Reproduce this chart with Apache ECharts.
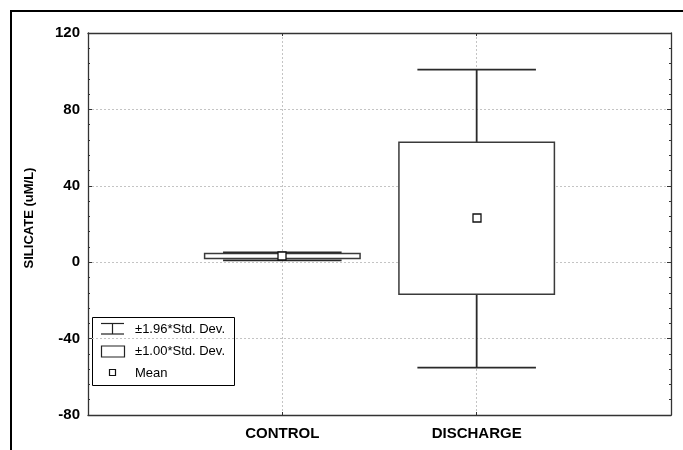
<!DOCTYPE html>
<html>
<head>
<meta charset="utf-8">
<script src="https://cdn.jsdelivr.net/npm/echarts@6/dist/echarts.min.js"></script>
<style>
  html, body { margin: 0; padding: 0; background: #fff; }
  #chart { width: 683px; height: 450px; }
</style>
</head>
<body>
<div id="chart"></div>
<script>
// Silicate concentration by site: mean, ±1.00 SD box, ±1.96 SD whiskers
const categories = ['CONTROL', 'DISCHARGE'];
const means = [3.2, 23.0];
const sd1Low = [1.9, -16.8];
const sd1High = [4.6, 62.8];
const sd196Low = [1.0, -55.2];
const sd196High = [5.1, 100.8];
const yTicks = [-80, -40, 0, 40, 80, 120];

// Category axis padded with empty slots so the two groups sit at 1/3 and 2/3
const axisCats = [''].concat(categories, ['']);

const seriesData = categories.map((c, i) => [
  i + 1, sd196Low[i], sd196High[i], sd1Low[i], sd1High[i], means[i]
]);

const FONT = '"Liberation Sans", Arial, sans-serif';
const lineColor = '#2a2a2a';

function renderItem(params, api) {
  const x = api.value(0);
  const step = api.size([1, 0])[0];
  const boxW = step * 0.80;
  const capW = step * 0.61;
  const pLo = api.coord([x, api.value(1)]);
  const pHi = api.coord([x, api.value(2)]);
  const bLo = api.coord([x, api.value(3)]);
  const bHi = api.coord([x, api.value(4)]);
  const pm = api.coord([x, api.value(5)]);
  const cx = pLo[0];
  const stroke = { stroke: lineColor, lineWidth: 1.8 };
  return {
    type: 'group',
    children: [
      { type: 'line', shape: { x1: cx, y1: pLo[1], x2: cx, y2: pHi[1] }, style: stroke },
      { type: 'rect', shape: { x: cx - boxW / 2, y: bHi[1], width: boxW, height: bLo[1] - bHi[1] },
        style: { fill: '#fff', stroke: '#3a3a3a', lineWidth: 1.5 } },
      { type: 'line', shape: { x1: cx - capW / 2, y1: pHi[1], x2: cx + capW / 2, y2: pHi[1] }, style: stroke },
      { type: 'line', shape: { x1: cx - capW / 2, y1: pLo[1], x2: cx + capW / 2, y2: pLo[1] }, style: stroke },
      { type: 'rect', shape: { x: Math.round(cx) - 4, y: Math.round(pm[1]) - 4, width: 8, height: 8 },
        style: { fill: '#fff', stroke: '#111', lineWidth: 1.3 } }
    ]
  };
}

const splitStyle = { show: true, lineStyle: { color: '#c4c4c4', type: [2, 2], width: 1 } };
const axisLine = { show: true, onZero: false, lineStyle: { color: '#333', width: 1.3 } };

const legendX = 92, legendY = 317;

const option = {
  animation: false,
  backgroundColor: '#fff',
  grid: { left: 88, right: 12, top: 33, bottom: 35, containLabel: false },
  xAxis: [
    {
      type: 'category', data: axisCats, boundaryGap: false, position: 'bottom',
      axisLine: axisLine,
      axisTick: { show: true, inside: true, length: 3, lineStyle: { color: '#333' } },
      axisLabel: { interval: 0, color: '#000', fontFamily: FONT, fontWeight: 'bold', fontSize: 15, margin: 11 },
      splitLine: splitStyle
    },
    {
      type: 'category', data: axisCats, boundaryGap: false, position: 'top',
      axisLine: axisLine,
      axisTick: { show: true, inside: true, length: 3, lineStyle: { color: '#333' } },
      axisLabel: { show: false }, splitLine: { show: false }
    }
  ],
  yAxis: [
    {
      type: 'value', min: yTicks[0], max: yTicks[yTicks.length - 1], interval: 40, position: 'left',
      axisLine: axisLine,
      axisTick: { show: true, inside: true, length: 4, lineStyle: { color: '#333' } },
      minorTick: { show: true, splitNumber: 5, length: 2, lineStyle: { color: '#333' } },
      axisLabel: { color: '#000', fontFamily: FONT, fontWeight: 'bold', fontSize: 15, margin: 8 },
      splitLine: splitStyle
    },
    {
      type: 'value', min: yTicks[0], max: yTicks[yTicks.length - 1], interval: 40, position: 'right',
      axisLine: axisLine,
      axisTick: { show: true, inside: true, length: 4, lineStyle: { color: '#333' } },
      minorTick: { show: true, splitNumber: 5, length: 2, lineStyle: { color: '#333' } },
      axisLabel: { show: false }, splitLine: { show: false }
    }
  ],
  series: [{
    type: 'custom',
    xAxisIndex: 0, yAxisIndex: 0,
    renderItem: renderItem,
    encode: { x: 0, y: [1, 2, 3, 4, 5] },
    data: seriesData,
    z: 5
  }],
  graphic: [
    // outer frame (top and left edges)
    { type: 'polyline', shape: { points: [[11, 460], [11, 11], [700, 11]] },
      style: { stroke: '#000', lineWidth: 2, fill: null }, silent: true },
    // y axis title
    { type: 'text', x: 29, y: 218, rotation: Math.PI / 2,
      style: { text: 'SILICATE (uM/L)', fill: '#000', font: 'bold 13px ' + FONT, align: 'center', verticalAlign: 'middle' } },
    // legend
    { type: 'group', z: 100, children: [
      { type: 'rect', shape: { x: legendX + 0.5, y: legendY + 0.5, width: 142, height: 68 },
        style: { fill: '#fff', stroke: '#000', lineWidth: 1 } },
      { type: 'line', shape: { x1: 101, y1: 323.5, x2: 124, y2: 323.5 }, style: { stroke: '#222', lineWidth: 1.2 } },
      { type: 'line', shape: { x1: 112.5, y1: 323.5, x2: 112.5, y2: 334 }, style: { stroke: '#222', lineWidth: 1.2 } },
      { type: 'line', shape: { x1: 101, y1: 334, x2: 124, y2: 334 }, style: { stroke: '#222', lineWidth: 1.2 } },
      { type: 'text', x: 135, y: 329, style: { text: '±1.96*Std. Dev.', fill: '#000', font: '13px ' + FONT, verticalAlign: 'middle' } },
      { type: 'rect', shape: { x: 101.5, y: 346, width: 23, height: 11 }, style: { fill: '#fff', stroke: '#222', lineWidth: 1.2 } },
      { type: 'text', x: 135, y: 351, style: { text: '±1.00*Std. Dev.', fill: '#000', font: '13px ' + FONT, verticalAlign: 'middle' } },
      { type: 'rect', shape: { x: 109.5, y: 369.5, width: 6, height: 6 }, style: { fill: '#fff', stroke: '#111', lineWidth: 1.2 } },
      { type: 'text', x: 135, y: 373, style: { text: 'Mean', fill: '#000', font: '13px ' + FONT, verticalAlign: 'middle' } }
    ] }
  ]
};

const chart = echarts.init(document.getElementById('chart'), null, { renderer: 'canvas' });
chart.setOption(option);
</script>
</body>
</html>
